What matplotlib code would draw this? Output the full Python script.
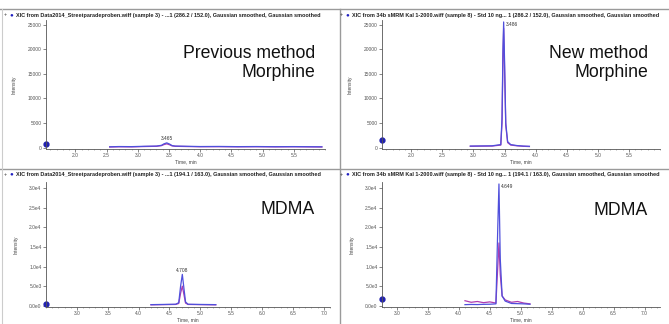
import matplotlib.pyplot as plt
from matplotlib.lines import Line2D

plt.rcParams['font.family'] = ['Liberation Sans', 'DejaVu Sans']

# chromatogram traces
tl_t = [2.55, 2.7, 2.9, 3.1, 3.3, 3.38, 3.42, 3.465, 3.51, 3.55, 3.6, 3.8, 4.0, 4.3, 4.6, 4.9, 5.2, 5.5, 5.8, 5.95]
tl_blue = [150, 200, 180, 250, 300, 450, 750, 950, 700, 400, 300, 250, 200, 220, 180, 200, 170, 190, 160, 150]
tl_purple = [100, 150, 130, 200, 250, 380, 600, 750, 560, 330, 250, 200, 160, 170, 140, 160, 130, 150, 120, 110]

tr_t = [2.95, 3.1, 3.3, 3.44, 3.46, 3.475, 3.486, 3.5, 3.52, 3.55, 3.6, 3.7, 3.8, 3.9]
tr_blue = [300, 320, 350, 600, 6000, 20000, 25600, 18000, 5000, 1200, 600, 400, 300, 250]
tr_purple = [250, 280, 300, 500, 5000, 18500, 24300, 16500, 4500, 1000, 500, 350, 250, 200]

bl_t = [4.2, 4.4, 4.6, 4.65, 4.68, 4.708, 4.73, 4.76, 4.8, 5.0, 5.25]
bl_blue = [300, 350, 400, 800, 5000, 8000, 5000, 1000, 400, 350, 300]
bl_purple = [250, 300, 350, 600, 3200, 5000, 3200, 700, 350, 300, 250]

br_t = [4.1, 4.2, 4.3, 4.4, 4.5, 4.6, 4.63, 4.649, 4.67, 4.7, 4.75, 4.85, 4.95, 5.05, 5.15]
br_blue = [300, 350, 320, 380, 400, 500, 20000, 31000, 12000, 2500, 1200, 600, 550, 500, 400]
br_purple = [1300, 900, 1100, 800, 1000, 700, 10000, 16000, 8000, 2500, 1500, 900, 1100, 700, 500]

titles = [
    "XIC from Data2014_Streetparadeproben.wiff (sample 3) - ...1 (286.2 / 152.0), Gaussian smoothed, Gaussian smoothed",
    "XIC from 34b sMRM Kal 1-2000.wiff (sample 8) - Std 10 ng... 1 (286.2 / 152.0), Gaussian smoothed, Gaussian smoothed",
    "XIC from Data2014_Streetparadeproben.wiff (sample 3) - ...1 (194.1 / 163.0), Gaussian smoothed, Gaussian smoothed",
    "XIC from 34b sMRM Kal 1-2000.wiff (sample 8) - Std 10 ng... 1 (194.1 / 163.0), Gaussian smoothed, Gaussian smoothed",
]
labels = ["Previous method\nMorphine", "New method\nMorphine", "MDMA", "MDMA"]
peak_labels = ["3.465", "3.486", "4.708", "4.649"]
peak_times = [3.465, 3.486, 4.708, 4.649]
marker_y = [800, 1500, 500, 1800]

morph_ticks = [0, 5000, 10000, 15000, 20000, 25000]
morph_ticklabels = ["0", "5000", "10000", "15000", "20000", "25000"]
mdma_ticks = [0, 5000, 10000, 15000, 20000, 25000, 30000]
mdma_ticklabels = ["0.0e0", "5.0e3", "1.0e4", "1.5e4", "2.0e4", "2.5e4", "3.0e4"]
morph_xticks = [2.0, 2.5, 3.0, 3.5, 4.0, 4.5, 5.0, 5.5]
mdma_xticks = [3.0, 3.5, 4.0, 4.5, 5.0, 5.5, 6.0, 6.5, 7.0]

W, H = 669, 324
fig = plt.figure(figsize=(W / 100, H / 100), dpi=100)
fig.patch.set_facecolor('white')

def px(x0, y0, x1, y1):
    return [x0 / W, 1 - y1 / H, (x1 - x0) / W, (y1 - y0) / H]

boxes = [px(46, 20, 325, 149), px(382, 20, 660, 149),
         px(46, 182, 330, 307), px(382, 182, 660, 307)]
xlims = [(1.53, 6.0), (1.53, 6.0), (2.5, 7.1), (2.76, 7.25)]
ylims = [(-300, 26000), (-300, 26000), (-300, 31500), (-300, 31500)]
traces = [(tl_t, tl_blue, tl_purple), (tr_t, tr_blue, tr_purple),
          (bl_t, bl_blue, bl_purple), (br_t, br_blue, br_purple)]
label_pos = [(315, 45), (648, 45), (315, 201), (648, 202)]
title_y = [15, 15, 174, 174]
title_x = [4, 340, 4, 340]

blue = '#4f4fdc'
purple = '#b03cb0'
grid_c = '#9a9a9a'

for i in range(4):
    ax = fig.add_axes(boxes[i])
    t, b, p = traces[i]
    ax.plot(t, p, color=purple, lw=0.9)
    ax.plot(t, b, color=blue, lw=0.9)
    ax.set_xlim(*xlims[i])
    ax.set_ylim(*ylims[i])
    if i < 2:
        ax.set_yticks(morph_ticks, morph_ticklabels)
        ax.set_xticks(morph_xticks, [f"{v:.1f}" for v in morph_xticks])
    else:
        ax.set_yticks(mdma_ticks, mdma_ticklabels)
        ax.set_xticks(mdma_xticks, [f"{v:.1f}" for v in mdma_xticks])
    ax.minorticks_on()
    ax.yaxis.set_tick_params(which='minor', left=False)
    ax.tick_params(labelsize=3.5, length=2, width=0.5, colors='#555555', pad=1.2)
    ax.tick_params(which='minor', length=1, width=0.4, colors='#777777')
    for s in ['top', 'right']:
        ax.spines[s].set_visible(False)
    for s in ['left', 'bottom']:
        ax.spines[s].set_color('#555555')
        ax.spines[s].set_linewidth(0.6)
    ax.set_xlabel("Time, min", fontsize=3.5, labelpad=0.5, color='#444444')
    ax.set_ylabel("Intensity", fontsize=3.5, labelpad=8, color='#444444')
    ax.plot([xlims[i][0]], [marker_y[i]], marker='o', ms=3.5, color='#2020b0', clip_on=False)
    pk = max(b)
    if i in (0, 2):
        ax.text(peak_times[i], pk + ylims[i][1] * 0.012, peak_labels[i], fontsize=3.5,
                ha='center', va='bottom', color='#333333')
    else:
        ax.text(peak_times[i] + 0.03, pk, peak_labels[i], fontsize=3.5,
                ha='left', va='top', color='#333333')
    lx, ly = label_pos[i]
    fig.text(lx / W, 1 - ly / H, labels[i], fontsize=12.7, ha='right', va='top',
             linespacing=1.15, color='#111111')
    fig.text(title_x[i] / W, 1 - title_y[i] / H, "+", fontsize=4, va='center', color='#333333')
    fig.text((title_x[i] + 5) / W, 1 - title_y[i] / H, "\u25cf", fontsize=4.5, va='center', color='#2020c0')
    fig.text((title_x[i] + 12) / W, 1 - title_y[i] / H, titles[i], fontsize=4.0,
             fontweight='bold', va='center', color='#222222')

# panel separators
fig.add_artist(Line2D([0, 1], [1 - 9 / H, 1 - 9 / H], color=grid_c, lw=1))
fig.add_artist(Line2D([0, 1], [1 - 169 / H, 1 - 169 / H], color=grid_c, lw=1))
fig.add_artist(Line2D([340 / W, 340 / W], [0, 1 - 9 / H], color=grid_c, lw=1))
fig.add_artist(Line2D([1.5 / W, 1.5 / W], [0, 1 - 9 / H], color='#cccccc', lw=0.8))

fig.savefig('out.png', dpi=100)
